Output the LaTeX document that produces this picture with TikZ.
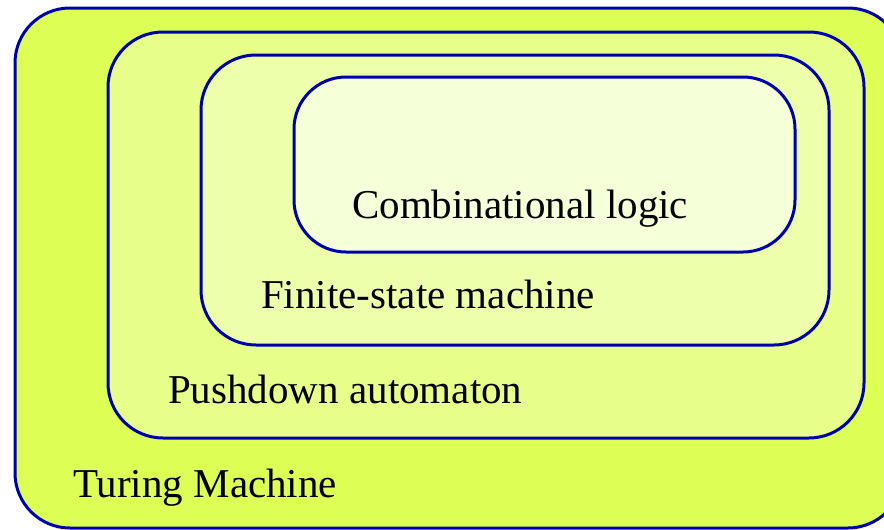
\documentclass[tikz,border=0pt]{standalone}
\usepackage{fontspec}
\setmainfont{Liberation Serif}
\definecolor{edge}{RGB}{0,0,170}
\definecolor{fillA}{RGB}{221,255,85}
\definecolor{fillB}{RGB}{231,255,138}
\definecolor{fillC}{RGB}{238,255,172}
\definecolor{fillD}{RGB}{245,255,216}
\tikzset{
  setbox/.style={draw=edge, line width=3pt, rounded corners=55pt},
  setlabel/.style={anchor=base west, inner sep=0pt, font=\fontsize{41}{41}\selectfont},
}
\begin{document}
\begin{tikzpicture}[x=1pt,y=-1pt]
\useasboundingbox (0,0) rectangle (884,530);
\clip (0,0) rectangle (884,530);
\fill[white] (0,0) rectangle (884,530);
\draw[setbox, fill=fillA] (15,8) rectangle (903,528);
\draw[setbox, fill=fillB] (108,32) rectangle (864,438);
\draw[setbox, fill=fillC] (201,55) rectangle (829,345);
\draw[setbox, fill=fillD, rounded corners=52pt] (294,77) rectangle (795,252);
\node[setlabel] (comb) at (352,218) {Combinational logic};
\node[setlabel] (fsm) at (261,308) {Finite-state machine};
\node[setlabel] (pda) at (168,403) {Pushdown automaton};
\node[setlabel] (tm) at (73,497) {Turing Machine};
\end{tikzpicture}
\end{document}
